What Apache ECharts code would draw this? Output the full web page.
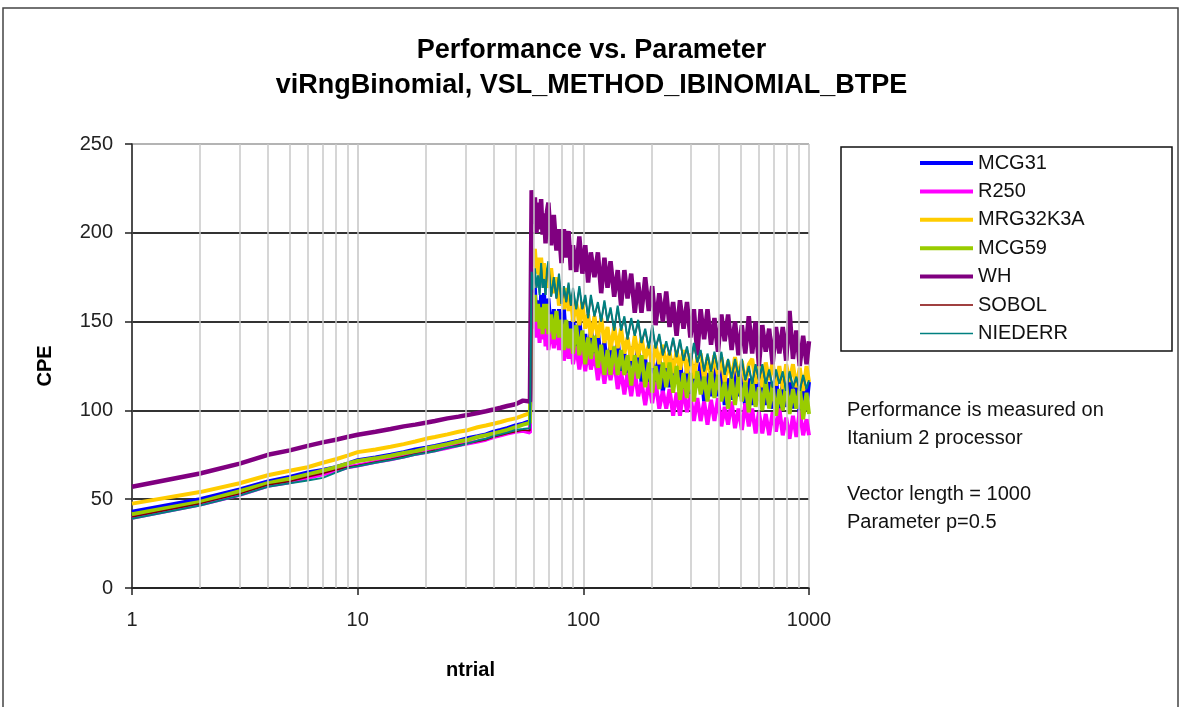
<!DOCTYPE html>
<html>
<head>
<meta charset="utf-8">
<title>Performance vs. Parameter</title>
<script src="https://cdn.jsdelivr.net/npm/echarts@6.0.0/dist/echarts.min.js"></script>
<style>
  html, body { margin: 0; padding: 0; background: #fff; }
  #chart { width: 1183px; height: 707px; }
</style>
</head>
<body>
<div id="chart"></div>
<script>
// ntrial values, before and after the jump at ~59
var lowTrials = [1, 2, 3, 4, 5, 6, 7, 8, 9, 10, 12, 14, 16, 18, 20, 22, 25, 28, 31, 34, 37, 40, 43, 46, 50, 54, 58];
var highTrials = [
  59, 60, 61, 62, 63, 64, 65, 66, 67, 68,
  69, 70, 72, 74, 76, 78, 80, 82, 84, 86,
  88, 90, 93, 96, 99, 102, 105, 108, 112, 116,
  120, 124, 128, 132, 137, 142, 147, 152, 157, 163,
  169, 175, 181, 188, 195, 202, 209, 217, 225, 233,
  241, 250, 259, 268, 278, 288, 298, 309, 320, 331,
  343, 355, 368, 381, 395, 409, 423, 438, 454, 470,
  487, 504, 522, 541, 560, 580, 600, 621, 643, 666,
  690, 714, 739, 765, 792, 820, 849, 879, 910, 942,
  975, 1000
];

// light vertical grid lines of the log axis
var minorGridTrials = [2, 3, 4, 5, 6, 7, 8, 9, 20, 30, 40, 50, 60, 70, 80, 90, 200, 300, 400, 500, 600, 700, 800, 900];

var seriesNames = ["MCG31", "R250", "MRG32K3A", "MCG59", "WH", "SOBOL", "NIEDERR"];

var mcg31Low = [43, 50, 55.5, 60, 62.5, 65, 66.5, 68, 70, 72, 73.5, 75, 76.5, 78, 79, 80, 81.5, 83, 84.5, 85.5, 86.5, 88, 89, 90, 91.5, 92.5, 94];
var mcg31High = [
  169, 153, 169, 149, 162, 145, 165, 152, 166, 146,
  149, 163, 143, 157, 138, 157, 144, 157, 138, 150,
  133, 152, 135, 152, 132, 143, 126, 146, 131, 145,
  125, 139, 120, 139, 125, 140, 121, 132, 117, 136,
  119, 137, 116, 129, 113, 131, 116, 132, 110, 125,
  113, 129, 115, 129, 107, 124, 109, 126, 113, 127,
  105, 121, 108, 126, 108, 124, 103, 118, 106, 122,
  108, 123, 101, 118, 103, 120, 107, 121, 103, 116,
  101, 118, 99, 115, 102, 120, 101, 118, 97, 114,
  103, 116
];

var r250Low = [39.5, 47, 52.5, 57.5, 59.5, 62, 64, 66, 68, 69, 71, 72.5, 74, 75.5, 76.5, 77.5, 79, 80.5, 81.5, 82.5, 83.5, 85, 86, 87, 88, 88.5, 87.5];
var r250High = [
  158, 146, 157, 141, 151, 138, 150, 140, 152, 136,
  147, 134, 147, 135, 147, 134, 142, 128, 141, 129,
  141, 126, 136, 123, 135, 122, 136, 123, 132, 117,
  129, 115, 128, 117, 128, 112, 122, 109, 121, 108,
  122, 108, 116, 103, 116, 104, 116, 101, 111, 101,
  112, 97, 110, 97, 112, 99, 109, 94, 107, 94,
  105, 92, 106, 94, 107, 91, 102, 92, 105, 90,
  101, 89, 104, 91, 101, 87, 99, 87, 98, 86,
  99, 88, 101, 86, 96, 84, 97, 85, 100, 86,
  95, 86
];

var mrg32k3aLow = [47.5, 54, 59, 63.5, 66, 68, 70.5, 72.5, 74.5, 76.5, 78, 79.5, 81, 82.5, 84, 85, 86.5, 88, 89, 90.5, 91.5, 92.5, 93.5, 94.5, 95.5, 97, 98.5];
var mrg32k3aHigh = [
  191, 181, 191, 177, 186, 173, 186, 176, 183, 169,
  180, 169, 180, 166, 175, 159, 169, 157, 169, 156,
  165, 150, 161, 148, 161, 146, 154, 141, 153, 141,
  152, 138, 147, 134, 147, 135, 146, 132, 141, 128,
  142, 130, 141, 129, 137, 124, 137, 126, 137, 124,
  133, 121, 134, 123, 134, 121, 132, 118, 130, 132,
  117, 130, 119, 131, 120, 130, 116, 128, 117, 130,
  118, 128, 114, 126, 129, 115, 126, 113, 127, 117,
  127, 114, 125, 112, 126, 116, 126, 113, 124, 111,
  125, 116
];

var mcg59Low = [41.5, 48.5, 54.5, 59, 61.5, 64, 66, 68, 70, 71.5, 73, 74.5, 76, 77, 78.5, 79.5, 81, 82.5, 83.5, 85, 86, 87, 88, 89, 90.5, 92, 93];
var mcg59High = [
  166, 150, 165, 150, 160, 146, 158, 143, 160, 146,
  160, 143, 154, 140, 156, 141, 151, 134, 151, 135,
  146, 132, 148, 131, 145, 126, 141, 129, 142, 124,
  137, 120, 134, 120, 136, 120, 134, 120, 131, 114,
  131, 118, 131, 113, 127, 110, 125, 112, 127, 113,
  127, 110, 125, 106, 121, 107, 121, 105, 122, 109,
  119, 105, 122, 107, 120, 105, 116, 101, 119, 103,
  119, 105, 116, 99, 117, 102, 113, 100, 117, 101,
  115, 97, 112, 100, 115, 98, 112, 101, 113, 95,
  110, 98
];

var whLow = [57, 64.5, 70, 75, 77.5, 80, 82, 83.5, 85, 86.3, 88, 89.5, 91, 92, 93, 94, 95.5, 96.5, 97.5, 98.5, 99.5, 100.5, 101.5, 102.5, 103.5, 105.5, 105];
var whHigh = [
  224, 205, 220, 200, 217, 202, 219, 199, 211, 194,
  212, 217, 193, 210, 190, 202, 183, 202, 186, 201,
  179, 193, 178, 198, 177, 193, 172, 189, 175, 189,
  166, 186, 169, 184, 164, 179, 159, 179, 163, 177,
  155, 172, 155, 175, 156, 170, 148, 166, 150, 167,
  147, 161, 142, 162, 146, 161, 141, 157, 131, 157,
  140, 157, 137, 152, 133, 154, 139, 154, 134, 150,
  131, 148, 132, 153, 132, 150, 125, 148, 133, 146,
  126, 147, 132, 147, 128, 156, 129, 145, 125, 142,
  126, 139
];

var sobolLow = [40, 47.5, 53, 58, 60, 62.5, 64.5, 66.5, 68, 69, 71, 72.5, 74, 75.5, 76.5, 77.5, 79, 80.5, 81.5, 82.5, 83.5, 85, 86, 87, 88, 89, 88.5];
var sobolHigh = [
  177, 168, 179, 169, 175, 166, 182, 169, 173, 165,
  178, 183, 164, 174, 163, 176, 160, 169, 161, 171,
  159, 168, 157, 169, 157, 164, 152, 164, 153, 160,
  150, 161, 150, 157, 145, 158, 145, 152, 140, 151,
  142, 150, 138, 145, 135, 147, 135, 142, 131, 138,
  131, 140, 130, 139, 128, 135, 125, 137, 127, 133,
  122, 131, 122, 132, 123, 132, 120, 128, 118, 128,
  119, 128, 117, 124, 115, 125, 117, 125, 115, 122,
  113, 122, 115, 121, 111, 121, 113, 118, 111, 119,
  112, 116
];

var niederrLow = [39, 46.5, 52, 57, 59, 60.5, 62, 65, 67.5, 68.5, 70.5, 72, 73.5, 75, 76, 77, 79, 80, 81.5, 83, 84, 85.5, 86.5, 87.5, 89, 89.5, 90];
var niederrHigh = [
  178, 168, 180, 169, 176, 165, 183, 169, 174, 165,
  179, 184, 164, 175, 163, 177, 160, 170, 161, 172,
  159, 169, 157, 170, 157, 165, 152, 165, 153, 161,
  150, 162, 150, 158, 145, 159, 145, 153, 140, 152,
  142, 151, 138, 146, 135, 148, 135, 143, 131, 139,
  131, 141, 130, 140, 128, 136, 125, 138, 127, 134,
  122, 132, 122, 133, 123, 133, 120, 129, 118, 129,
  119, 129, 117, 125, 115, 126, 117, 126, 115, 123,
  113, 123, 115, 122, 111, 122, 113, 119, 111, 120,
  112, 117
];

var FONT = '"Liberation Sans", Arial, sans-serif';

document.addEventListener("DOMContentLoaded", function () {
    var chart = echarts.init(document.getElementById("chart"));

    // join low and high parts into [ntrial, cpe] pairs
    function pairs(low, high) {
        var a = lowTrials.map(function (n, i) { return [n, low[i]]; });
        var b = highTrials.map(function (n, i) { return [n, high[i]]; });
        return a.concat(b);
    }

    function line(name, color, width, low, high) {
        return {
            name: name,
            type: "line",
            data: pairs(low, high),
            symbol: "none",
            z: 3,
            lineStyle: { color: color, width: width },
            itemStyle: { color: color },
            emphasis: { disabled: true }
        };
    }

    // legend keys drawn as flat bars, thin for the last two
    var legendData = seriesNames.map(function (name, i) {
        return {
            name: name,
            icon: i < 5 ? "path://M0,0H53V4H0Z" : "path://M0,0H53V1.5H0Z"
        };
    });

    var option = {
        animation: false,
        backgroundColor: "#fff",
        title: {
            text: "Performance vs. Parameter\nviRngBinomial, VSL_METHOD_IBINOMIAL_BTPE",
            left: "center",
            top: 28,
            textStyle: { fontFamily: FONT, fontSize: 27, fontWeight: "bold", lineHeight: 35, color: "#000" }
        },
        grid: { left: 132, top: 144, width: 677, height: 444 },
        legend: {
            data: legendData,
            orient: "vertical",
            left: 920,
            top: 153,
            padding: 0,
            itemWidth: 53,
            itemHeight: 14,
            itemGap: 8.4,
            textStyle: { fontFamily: FONT, fontSize: 20, lineHeight: 20, color: "#111" }
        },
        xAxis: {
            type: "log",
            logBase: 10,
            min: 1,
            max: 1000,
            name: "ntrial",
            nameLocation: "middle",
            nameGap: 72,
            nameTextStyle: { fontFamily: FONT, fontSize: 20, fontWeight: "bold", color: "#000" },
            axisLine: { lineStyle: { color: "#222", width: 1.5 } },
            axisTick: { show: true, length: 7, lineStyle: { color: "#222", width: 1.5 } },
            axisLabel: {
                fontFamily: FONT, fontSize: 20, color: "#222", margin: 22,
                formatter: function (v) { return String(Math.round(v)); }
            },
            splitLine: { show: true, lineStyle: { color: "#c4c4c4", width: 1.5 } }
        },
        yAxis: {
            type: "value",
            min: 0,
            max: 250,
            interval: 50,
            name: "CPE",
            nameLocation: "middle",
            nameGap: 77,
            nameRotate: 90,
            nameTextStyle: { fontFamily: FONT, fontSize: 20, fontWeight: "bold", color: "#000" },
            axisLine: { show: true, lineStyle: { color: "#222", width: 1.5 } },
            axisTick: { show: true, length: 7, lineStyle: { color: "#222", width: 1.5 } },
            axisLabel: { fontFamily: FONT, fontSize: 20, color: "#222", margin: 19 },
            splitLine: {
                show: true,
                lineStyle: { color: ["#333", "#333", "#333", "#333", "#333", "#b4b4b4"], width: 2 }
            }
        },
        graphic: [
            {
                type: "rect",
                shape: { x: 3, y: 8, width: 1175, height: 720 },
                style: { fill: "none", stroke: "#444", lineWidth: 1.5 },
                silent: true
            },
            {
                type: "rect",
                shape: { x: 841, y: 147, width: 331, height: 204 },
                style: { fill: "none", stroke: "#111", lineWidth: 1.5 },
                silent: true
            },
            {
                type: "text",
                left: 847,
                top: 396,
                style: {
                    text: "Performance is measured on\nItanium 2 processor\n\nVector length = 1000\nParameter p=0.5",
                    fontFamily: FONT,
                    fontSize: 20,
                    lineHeight: 28,
                    fill: "#111"
                },
                silent: true
            }
        ],
        series: [
            {
                // light minor grid of the log axis
                name: "minorGrid",
                type: "line",
                data: [],
                z: 1,
                silent: true,
                markLine: {
                    silent: true,
                    symbol: "none",
                    label: { show: false },
                    lineStyle: { color: "#c8c8c8", width: 1.5, type: "solid" },
                    emphasis: { disabled: true },
                    data: minorGridTrials.map(function (n) { return { xAxis: n }; })
                }
            },
            line("MCG31", "#0000ff", 4, mcg31Low, mcg31High),
            line("R250", "#ff00ff", 4, r250Low, r250High),
            line("MRG32K3A", "#ffcc00", 4, mrg32k3aLow, mrg32k3aHigh),
            line("MCG59", "#99cc00", 4, mcg59Low, mcg59High),
            line("WH", "#800080", 4.5, whLow, whHigh),
            line("SOBOL", "#800000", 1.5, sobolLow, sobolHigh),
            line("NIEDERR", "#008080", 2, niederrLow, niederrHigh)
        ]
    };

    chart.setOption(option);
});
</script>
</body>
</html>
